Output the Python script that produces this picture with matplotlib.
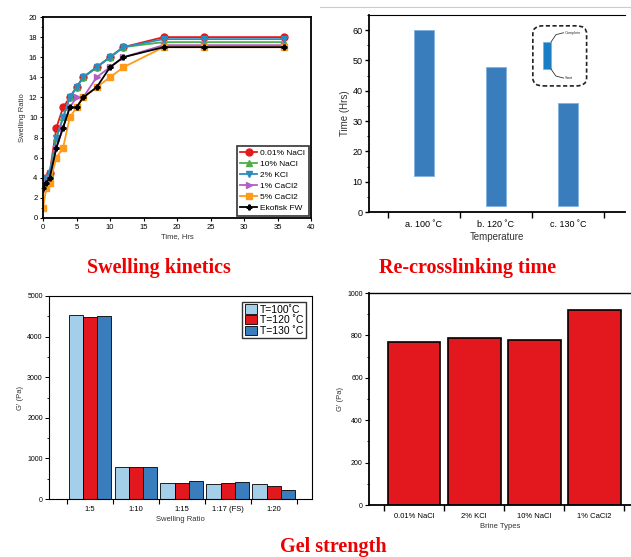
import numpy as np
import matplotlib.pyplot as plt
from matplotlib.patches import FancyBboxPatch, Rectangle
from matplotlib.ticker import MultipleLocator

plt.rcParams['font.family'] = ['Liberation Sans', 'DejaVu Sans']

W, H = 631, 557

# swelling kinetics
t = [0, 0.5, 1, 2, 3, 4, 5, 6, 8, 10, 12, 18, 24, 36]
nacl_001 = [3, 4, 4.5, 9, 11, 12, 13, 14, 15, 16, 17, 18, 18, 18]
nacl_10 = [3, 4, 4.5, 8, 10, 12, 13, 14, 15, 16, 17, 17.5, 17.5, 17.5]
kcl_2 = [3, 4, 4.5, 8, 10, 12, 13, 14, 15, 16, 17, 17.8, 17.8, 17.8]
cacl_1 = [3, 3.5, 4, 7, 9, 11, 12, 12, 14, 15, 16, 17.2, 17.2, 17.2]
cacl_5 = [1, 3, 3.5, 6, 7, 10, 11, 12, 13, 14, 15, 17, 17, 17]
ekofisk = [3, 3.5, 4, 7, 9, 11, 11, 12, 13, 15, 16, 17, 17, 17]
kin_names = ['0.01% NaCl', '10% NaCl', '2% KCl', '1% CaCl2', '5% CaCl2', 'Ekofisk FW']

# re-crosslinking time
temps = ['a. 100 ˚C', 'b. 120 ˚C', 'c. 130 ˚C']
t_start = [12, 2, 2]
t_end = [60, 48, 36]

# gel strength vs swelling ratio
ratios = ['1:5', '1:10', '1:15', '1:17 (FS)', '1:20']
g_100 = [4530, 800, 400, 380, 360]
g_120 = [4490, 780, 400, 390, 330]
g_130 = [4500, 790, 450, 420, 220]

# gel strength vs brine
brines = ['0.01% NaCl', '2% KCl', '10% NaCl', '1% CaCl2']
g_brine = [770, 790, 780, 920]


def rect(l, r, top, b):
    return [l / W, 1 - b / H, (r - l) / W, (b - top) / H]


fig = plt.figure(figsize=(W / 100, H / 100), dpi=100)

# ---- panel 1
ax1 = fig.add_axes(rect(43, 311, 17, 218))
styles = [('#e41a1c', 'o'), ('#4daf4a', '^'), ('#2b8cbe', 'v'),
          ('#b15fc4', '>'), ('#ff9a1a', 's'), ('black', 'P')]
for y, name, (c, m) in zip([nacl_001, nacl_10, kcl_2, cacl_1, cacl_5, ekofisk], kin_names, styles):
    ax1.plot(t, y, color=c, marker=m, markersize=5 if m != 'P' else 3.5, lw=1.3, label=name)
ax1.set_xlim(0, 40)
ax1.set_ylim(0, 20)
ax1.xaxis.set_major_locator(MultipleLocator(5))
ax1.yaxis.set_major_locator(MultipleLocator(2))
ax1.yaxis.set_minor_locator(MultipleLocator(1))
ax1.tick_params(labelsize=5.5, length=2.5, width=0.8, pad=1.5)
ax1.tick_params(which='minor', length=1.5, width=0.6)
ax1.set_xlabel('Time, Hrs', fontsize=5.5, labelpad=2, color='#333333')
ax1.set_ylabel('Swelling Ratio', fontsize=5.5, labelpad=2, color='#333333')
for s in ax1.spines.values():
    s.set_linewidth(1.3)
leg = ax1.legend(loc='lower right', fontsize=6, frameon=True, fancybox=False,
                 edgecolor='black', handlelength=2.0, borderpad=0.45,
                 labelspacing=0.38, handletextpad=0.4, borderaxespad=0.25)
leg.get_frame().set_linewidth(1.2)

# ---- panel 2
ax2 = fig.add_axes(rect(369, 625, 15, 212))
x2 = np.arange(len(temps))
ax2.bar(x2, np.array(t_end) - np.array(t_start), bottom=t_start, width=0.27,
        color='#3a7dbd', edgecolor='#7fb2df', linewidth=0.6)
ax2.set_xlim(-0.76, 2.79)
ax2.set_ylim(0, 65)
ax2.set_xticks(x2, temps)
ax2.set_xticks(np.arange(-0.5, 3.0, 1.0), minor=True)
ax2.tick_params(axis='x', which='major', length=0, labelsize=6.5, pad=6)
ax2.tick_params(axis='x', which='minor', length=4, width=1.0, direction='out')
ax2.yaxis.set_major_locator(MultipleLocator(10))
ax2.yaxis.set_minor_locator(MultipleLocator(5))
ax2.tick_params(axis='y', labelsize=6.5, length=3, width=1.0, pad=1.5)
ax2.tick_params(axis='y', which='minor', length=1.8, width=0.7)
ax2.set_xlabel('Temperature', fontsize=7, labelpad=2, color='#333333')
ax2.set_ylabel('Time (Hrs)', fontsize=7, labelpad=2, color='#333333')
ax2.spines['left'].set_linewidth(1.3)
ax2.spines['bottom'].set_linewidth(1.3)
ax2.spines['top'].set_linewidth(0.8)
ax2.spines['right'].set_visible(False)
box = FancyBboxPatch((0.64, 0.64), 0.21, 0.305, transform=ax2.transAxes,
                     boxstyle='round,pad=0,rounding_size=0.04', fill=False,
                     linestyle=(0, (2.5, 1.5)), linewidth=1.2, edgecolor='#222222')
ax2.add_patch(box)
ax2.add_patch(Rectangle((0.68, 0.726), 0.031, 0.137, transform=ax2.transAxes,
                        facecolor='#1a7ec4', edgecolor='#6fb0e0', linewidth=0.5))
ax2.plot([0.711, 0.73, 0.76], [0.863, 0.9, 0.91], transform=ax2.transAxes,
         color='#333333', lw=0.6)
ax2.plot([0.711, 0.73, 0.76], [0.726, 0.69, 0.68], transform=ax2.transAxes,
         color='#333333', lw=0.6)
ax2.text(0.765, 0.91, 'Complete', transform=ax2.transAxes, fontsize=2.8,
         va='center', color='#333333')
ax2.text(0.765, 0.68, 'Start', transform=ax2.transAxes, fontsize=2.8,
         va='center', color='#333333')

# ---- panel 3
ax3 = fig.add_axes(rect(49, 312, 296, 499))
x3 = np.arange(len(ratios))
bw = 0.31
for off, vals, c, lab in [(-bw, g_100, '#a3cfe8', 'T=100˚C'),
                          (0, g_120, '#e3181f', 'T=120 ˚C'),
                          (bw, g_130, '#3a7dbd', 'T=130 ˚C')]:
    ax3.bar(x3 + off, vals, width=bw, color=c, edgecolor='black', linewidth=0.6, label=lab)
ax3.set_xlim(-0.89, 4.83)
ax3.set_ylim(0, 5000)
ax3.set_xticks(x3, ratios)
ax3.set_xticks(np.arange(-0.5, 5.0, 1.0), minor=True)
ax3.tick_params(axis='x', which='major', length=0, labelsize=5.5, pad=5)
ax3.tick_params(axis='x', which='minor', length=3.5, width=0.8)
ax3.yaxis.set_major_locator(MultipleLocator(1000))
ax3.yaxis.set_minor_locator(MultipleLocator(500))
ax3.tick_params(axis='y', labelsize=5, length=3, width=0.7, pad=1.5)
ax3.tick_params(axis='y', which='minor', length=1.8, width=0.6)
ax3.set_xlabel('Swelling Ratio', fontsize=5.5, labelpad=2, color='#333333')
ax3.set_ylabel("G' (Pa)", fontsize=5.5, labelpad=2, color='#333333')
for s in ax3.spines.values():
    s.set_linewidth(0.8)
leg3 = ax3.legend(loc='upper right', fontsize=7.5, frameon=True, fancybox=False,
                  edgecolor='black', handlelength=1.2, handleheight=1.0,
                  borderpad=0.2, labelspacing=0.05, handletextpad=0.3,
                  borderaxespad=0.6)
leg3.get_frame().set_linewidth(1.0)

# ---- panel 4
ax4 = fig.add_axes(rect(369, 632, 293, 505))
x4 = np.arange(len(brines))
ax4.bar(x4, g_brine, width=0.88, color='#e3181f', edgecolor='black', linewidth=1.2)
ax4.set_xlim(-0.75, 3.63)
ax4.set_ylim(0, 1000)
ax4.set_xticks(x4, brines)
ax4.set_xticks(np.arange(-0.5, 4.0, 1.0), minor=True)
ax4.tick_params(axis='x', which='major', length=0, labelsize=5.5, pad=6)
ax4.tick_params(axis='x', which='minor', length=4, width=1.0)
ax4.yaxis.set_major_locator(MultipleLocator(200))
ax4.yaxis.set_minor_locator(MultipleLocator(100))
ax4.tick_params(axis='y', labelsize=5, length=3, width=0.8, pad=1.5)
ax4.tick_params(axis='y', which='minor', length=1.8, width=0.7)
ax4.set_xlabel('Brine Types', fontsize=5.5, labelpad=2, color='#333333')
ax4.set_ylabel("G' (Pa)", fontsize=5.5, labelpad=2, color='#333333')
ax4.spines['left'].set_linewidth(1.3)
ax4.spines['bottom'].set_linewidth(1.3)
ax4.spines['top'].set_linewidth(1.0)
ax4.spines['right'].set_visible(False)

# captions
cap = dict(color='#ee0000', fontsize=14.5, fontweight='bold',
           family=['Liberation Serif', 'DejaVu Serif'], ha='center', va='center')
fig.text(159 / W, 1 - 268 / H, 'Swelling kinetics', **cap)
fig.text(468 / W, 1 - 268 / H, 'Re-crosslinking time', **cap)
fig.text(333 / W, 1 - 547 / H, 'Gel strength', **cap)
fig.add_artist(plt.Line2D([320 / W, 1], [1 - 7 / H, 1 - 7 / H], color='#cccccc', lw=0.8))

fig.savefig('out.png', dpi=100)
